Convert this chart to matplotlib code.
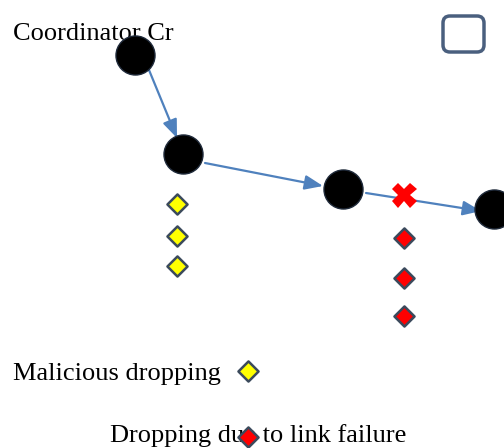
import matplotlib.pyplot as plt
from matplotlib.patches import FancyBboxPatch

# node positions (pixel-like diagram coordinates)
node_x = [135, 183, 343, 494]
node_y = [55, 154, 189, 209]

# links between nodes (start, end)
link_start = [(149, 70), (205, 163), (366, 193)]
link_end = [(177, 138), (323, 186), (481, 211)]

# dropped packets
mal_x = [177, 177, 177]
mal_y = [204, 236, 266]
fail_x = [404, 404, 404]
fail_y = [238, 278, 316]
fail_mark = (404, 195)

fig = plt.figure(figsize=(5.04, 4.48), dpi=100)
ax = fig.add_axes([0, 0, 1, 1])
ax.set_xlim(0, 504)
ax.set_ylim(448, 0)
ax.axis('off')

blue = '#4f81bd'
for (x0, y0), (x1, y1) in zip(link_start, link_end):
    ax.annotate('', xy=(x1, y1), xytext=(x0, y0),
                arrowprops=dict(arrowstyle='-|>,head_length=0.55,head_width=0.22',
                                mutation_scale=20, color=blue, lw=1.6,
                                shrinkA=0, shrinkB=0))

ax.scatter(node_x, node_y, s=790, c='black', edgecolors='#1f2a3a', linewidths=1, zorder=3)

ax.plot(*fail_mark, marker='X', color='red', markersize=18, markeredgewidth=0, zorder=4)

dia = dict(s=105, marker='D', edgecolors='#3b4a5c', linewidths=1.8, zorder=3)
ax.scatter(mal_x, mal_y, c='#ffff00', **dia)
ax.scatter(fail_x, fail_y, c='#ff0000', **dia)

font = dict(family='Liberation Serif', fontsize=19, color='black')
ax.text(13, 34, 'Coordinator Cr', va='center', ha='left', zorder=2, **font)
ax.text(13, 374, 'Malicious dropping', va='center', ha='left', **font)
ax.scatter([248], [371], c='#ffff00', **dia)
ax.text(110, 436, 'Dropping due to link failure', va='center', ha='left', **font)
ax.scatter([248], [437], c='#ff0000', **dia)

box = FancyBboxPatch((443, 16), 41, 36, boxstyle='round,pad=0,rounding_size=7',
                     fill=False, edgecolor='#4a5f7e', lw=2.5)
ax.add_patch(box)

fig.savefig('out.png', dpi=100)
